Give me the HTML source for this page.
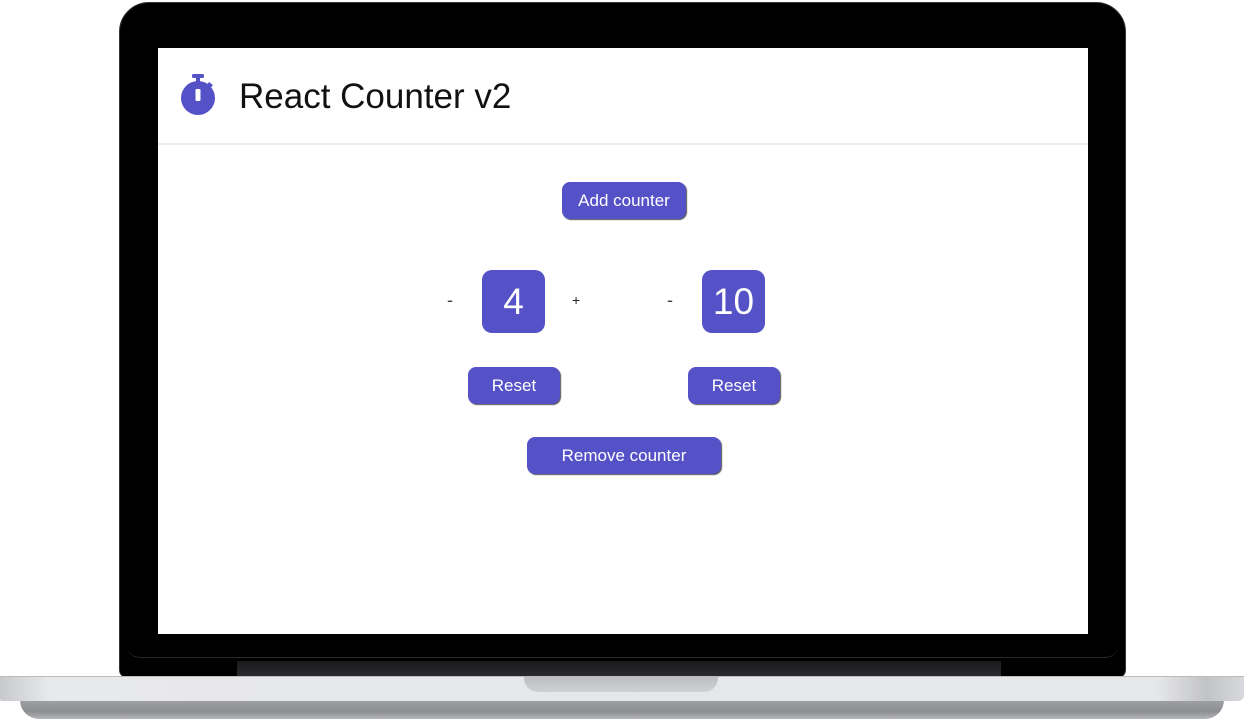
<!DOCTYPE html>
<html><head><meta charset="utf-8"><style>
*{margin:0;padding:0;box-sizing:border-box}
body{width:1244px;height:721px;background:#fff;position:relative;overflow:hidden;font-family:"Liberation Sans",sans-serif}
.abs{position:absolute}
.lid{left:119px;top:2px;width:1007px;height:676px;background:#000;border-radius:30px 30px 8px 8px;border:1px solid #333}
.inner{left:126px;top:640px;width:993px;height:18px;border-bottom:1px solid #2a2a2a;border-radius:0 0 14px 14px}
.hinge{left:237px;top:661px;width:764px;height:16px;background:linear-gradient(#1a1a1e,#2a2a30)}
.screen{left:158px;top:48px;width:930px;height:586px;background:#fff}
.hdr{left:158px;top:143px;width:930px;height:2px;background:#ececec}
.title{left:239px;top:77px;font-size:35px;color:#111}
.btn{background:#5551c7;color:#fff;border-radius:8px;text-align:center;box-shadow:1px 1px 1px #555;font-size:17px}
.box{background:#5551c7;color:#fff;border-radius:10px;text-align:center;font-size:37px;line-height:63px}
.op{font-size:18px;color:#444}
.base{left:0;top:676px;width:1244px;height:25px;background:linear-gradient(90deg,#c8c9cc 0%,#e8e9eb 4%,#e6e7e9 50%,#e6e7e9 93%,#c2c3c6 97%,#d8d9dc 100%);border-radius:0 0 6px 2px;border-top:1px solid #bbb}
.base2{left:20px;top:700px;width:1204px;height:19px;background:linear-gradient(#a0a1a5,#8d8e92 60%,#b5b6b9);border-radius:0 0 40px 40px}
.notch{left:524px;top:677px;width:194px;height:15px;background:linear-gradient(#bdbec1,#cfd0d3);border-radius:0 0 14px 14px}
</style></head><body>
<div class="abs lid"></div>
<div class="abs inner"></div>
<div class="abs hinge"></div>
<div class="abs screen"></div>
<div class="abs hdr"></div>
<svg class="abs" style="left:180px;top:72px" width="38" height="46" viewBox="0 0 38 46">
<rect x="12" y="2" width="12" height="4" rx="1.5" fill="#5551c7"/>
<rect x="16" y="5" width="4" height="6" fill="#5551c7"/>
<rect x="28" y="11" width="5" height="3" transform="rotate(40 30 12)" fill="#5551c7"/>
<circle cx="18" cy="26" r="17" fill="#5551c7"/>
<rect x="15.5" y="17" width="5" height="12" rx="1" fill="#fff"/>
</svg>
<div class="abs title">React Counter v2</div>
<div class="abs btn" style="left:562px;top:182px;width:124px;height:37px;line-height:37px">Add counter</div>
<div class="abs op" style="left:447px;top:290px">-</div>
<div class="abs box" style="left:482px;top:270px;width:63px;height:63px">4</div>
<div class="abs op" style="left:572px;top:292px;font-size:14px;color:#222">+</div>
<div class="abs op" style="left:667px;top:290px">-</div>
<div class="abs box" style="left:702px;top:270px;width:63px;height:63px">10</div>
<div class="abs btn" style="left:468px;top:367px;width:92px;height:37px;line-height:37px">Reset</div>
<div class="abs btn" style="left:688px;top:367px;width:92px;height:37px;line-height:37px">Reset</div>
<div class="abs btn" style="left:527px;top:437px;width:194px;height:37px;line-height:37px">Remove counter</div>
<div class="abs base2"></div>
<div class="abs base"></div>
<div class="abs notch"></div>
</body></html>
